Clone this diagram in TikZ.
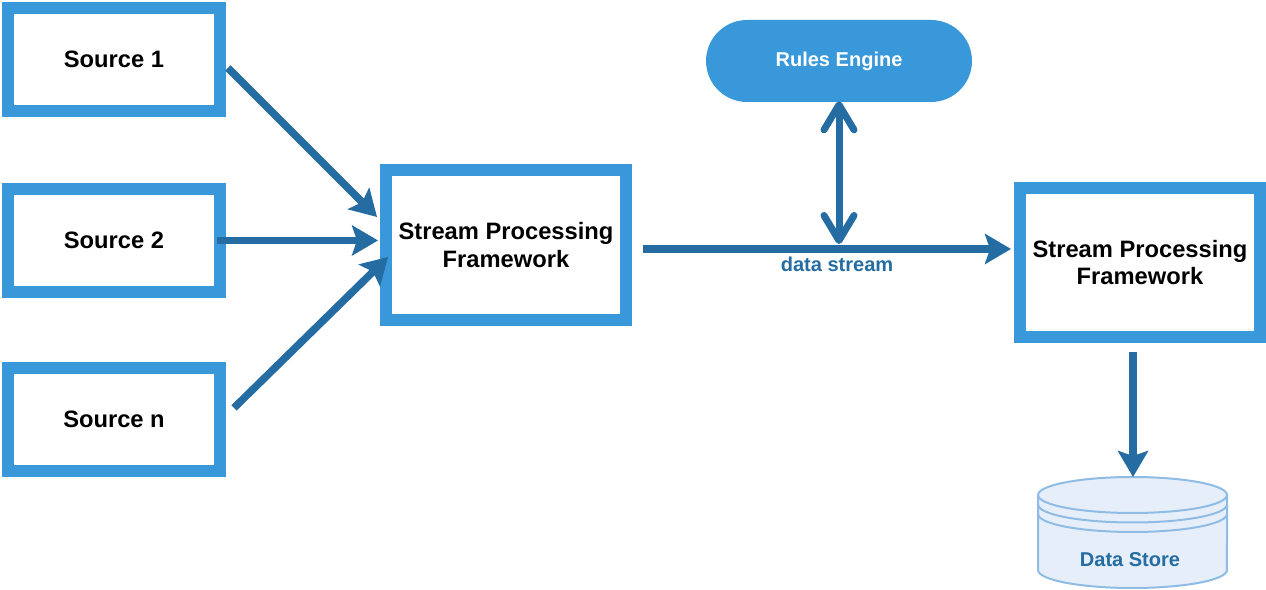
\documentclass[tikz,border=0pt]{standalone}
\usepackage{fontspec}
\setmainfont{Liberation Sans}
\usetikzlibrary{positioning,arrows.meta}

\definecolor{boxblue}{RGB}{56,152,218}
\definecolor{arrowblue}{RGB}{36,108,162}
\definecolor{storefill}{RGB}{230,239,249}
\definecolor{storeline}{RGB}{143,188,229}

\begin{document}
\begin{tikzpicture}[
    x=0.02cm, y=-0.02cm,
    source/.style={draw=boxblue, fill=white, line width=0.24cm, rectangle, minimum width=4.24cm, minimum height=2.06cm, font=\fontsize{13.5}{16}\selectfont\bfseries},
    framework/.style={source, minimum width=4.8cm, minimum height=3cm, align=center, font=\fontsize{13.5}{15.9}\selectfont\bfseries},
    engine/.style={fill=boxblue, text=white, rectangle, rounded corners=0.82cm, minimum width=5.32cm, minimum height=1.64cm, font=\fontsize{11.4}{13}\selectfont\bfseries},
    arrow/.style={-{Stealth[length=0.52cm,width=0.6cm,inset=0.1cm]}, draw=arrowblue, line width=0.15cm},
    dblarrow/.style={{Straight Barb[length=0.5cm,width=0.6cm,round]}-{Straight Barb[length=0.5cm,width=0.6cm,round]}, draw=arrowblue, line width=0.14cm},
    streamtext/.style={text=arrowblue, font=\fontsize{11.4}{13}\selectfont\bfseries, inner sep=0pt}
]
    \useasboundingbox (0,0) rectangle (1266,590);

    % Blocks
    \node[source] (src1) at (114,59.5) {Source 1};
    \node[source, below=1.32cm of src1] (src2) {Source 2};
    \node[source, below=1.28cm of src2] (srcn) {Source n};

    \node[framework] (spf1) at (506,245) {Stream Processing\\Framework};
    \node[framework] (spf2) at (1140,262.5) {Stream Processing\\Framework};
    \node[engine] (rules) at (839,61) {Rules Engine};

    % Data store
    \coordinate (storetop) at (1133,477);
    \draw[fill=storefill, draw=storeline, line width=0.04cm] (1038,495) -- (1038,570)
        arc[start angle=180, end angle=360, x radius=1.89cm, y radius=0.36cm] -- (1227,495)
        arc[start angle=0, end angle=180, x radius=1.89cm, y radius=0.36cm];
    \draw[storeline, line width=0.04cm] (1038,495) arc[start angle=180, end angle=360, x radius=1.89cm, y radius=0.36cm];
    \draw[storeline, line width=0.04cm] (1038,504.5) arc[start angle=180, end angle=360, x radius=1.89cm, y radius=0.36cm];
    \draw[storeline, line width=0.04cm] (1038,514) arc[start angle=180, end angle=360, x radius=1.89cm, y radius=0.36cm];
    \node[streamtext] (store) at (1130,560) {Data Store};

    % Arrows
    \draw[arrow] ([xshift=0.04cm,yshift=-0.17cm]src1.east) -- ([xshift=-0.06cm,yshift=0.56cm]spf1.west);
    \draw[arrow, shorten >=0.04cm] ([xshift=-0.18cm]src2.east) -- (src2.east -| spf1.west);
    \draw[arrow] ([xshift=0.16cm,yshift=0.23cm]srcn.east) -- ([xshift=0.16cm,yshift=-0.24cm]spf1.west);

    \coordinate (ds) at ([xshift=0.22cm,yshift=-0.08cm]spf1.east);
    \draw[arrow, shorten >=0.06cm] (ds) -- node[streamtext, below=0.08cm, pos=0.523] (dslabel) {data stream} (ds -| spf2.west);
    \draw[dblarrow] ([yshift=0.02cm]rules.south) -- ([yshift=0.1cm]rules.south |- ds);

    \draw[arrow] (storetop |- spf2.south) ++(0,9) coordinate (downstart) (downstart) -- (storetop);
\end{tikzpicture}
\end{document}
